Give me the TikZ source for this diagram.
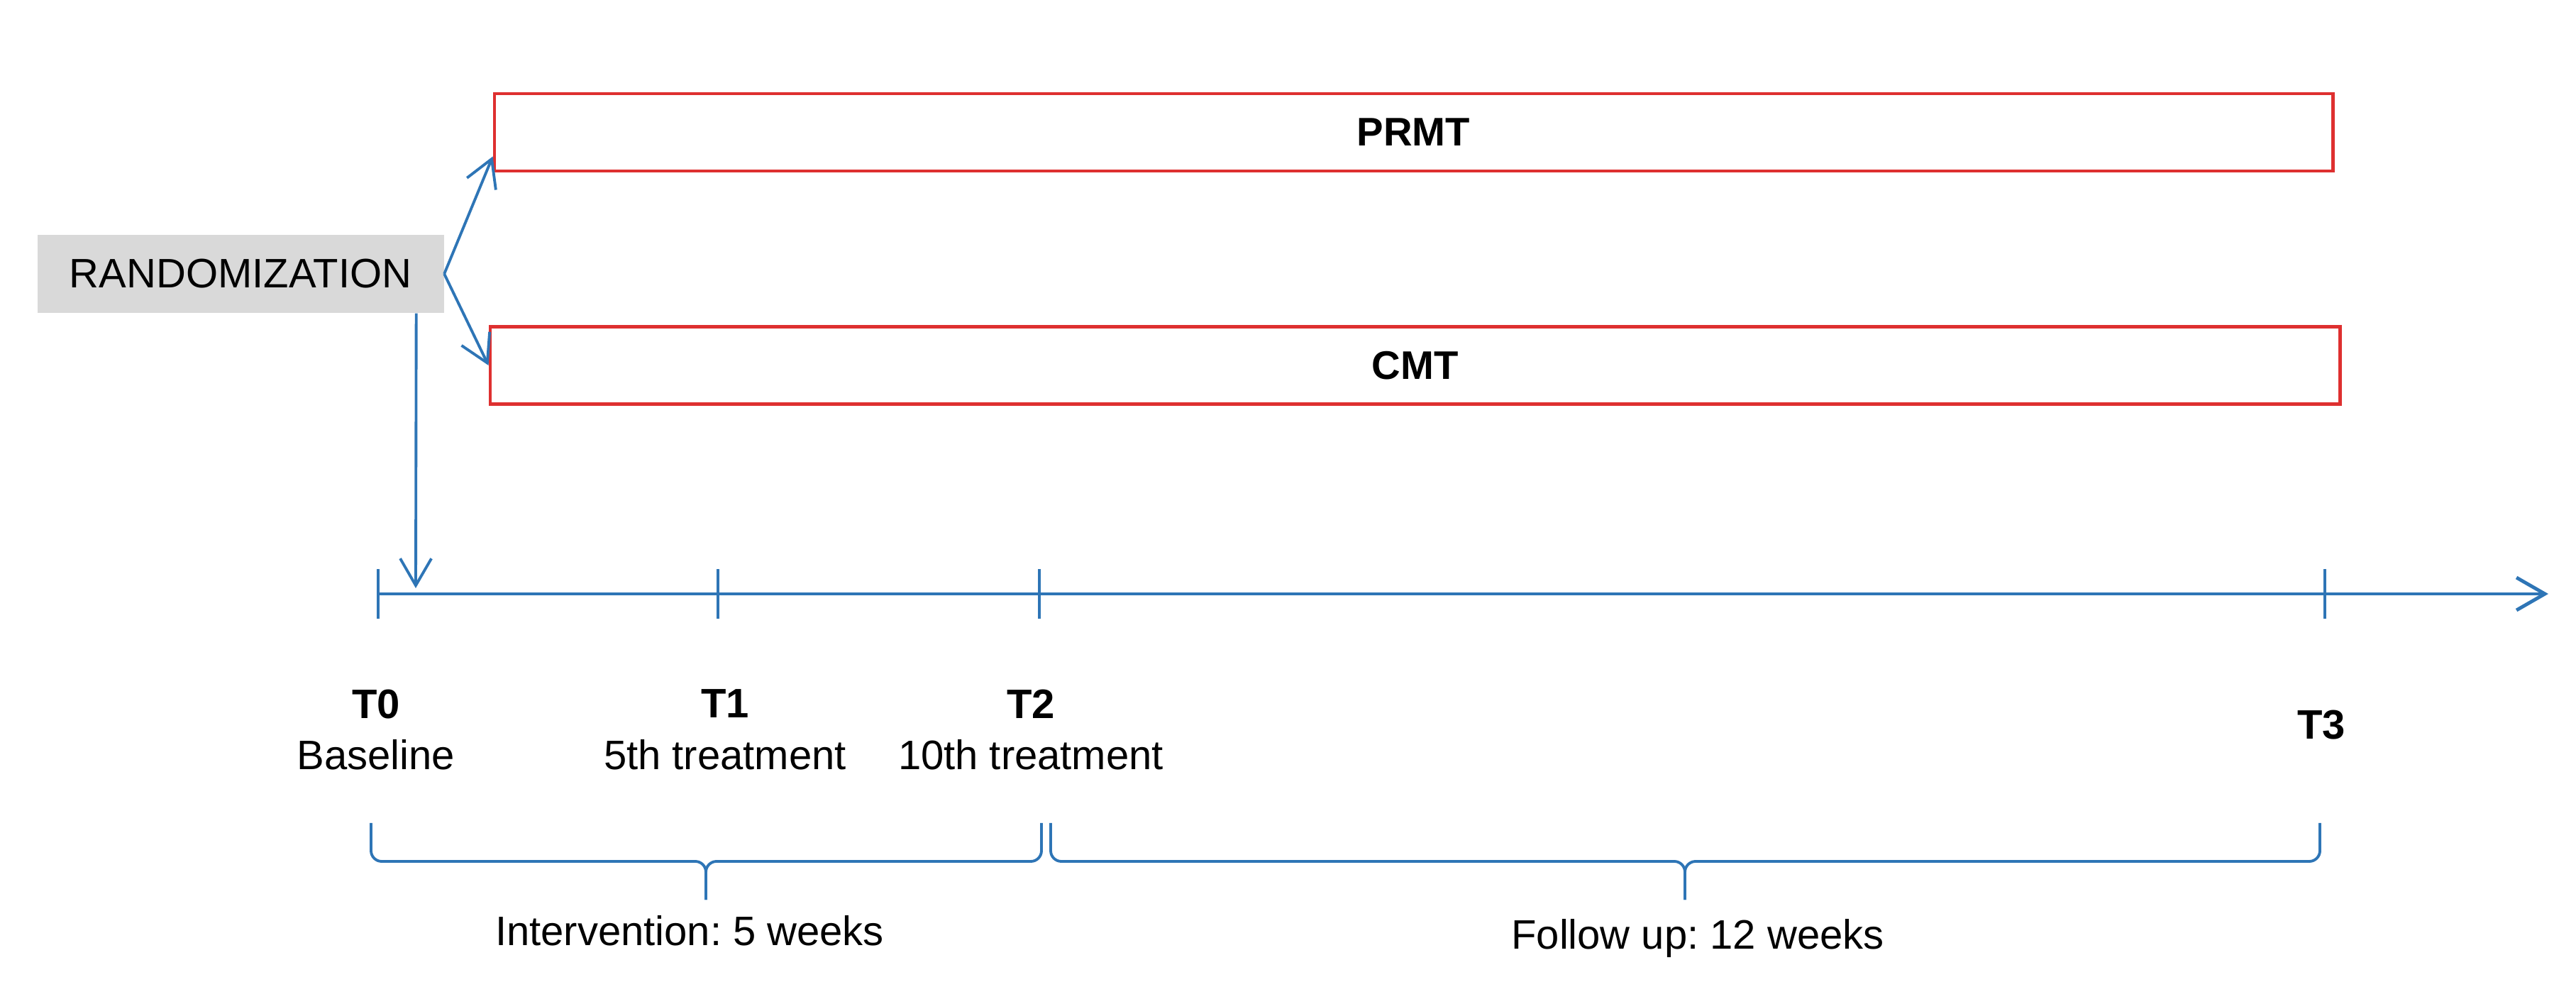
\documentclass[tikz,border=0pt]{standalone}
\usepackage{fontspec}
\setmainfont{Liberation Sans}
\usepackage{xcolor}
\usetikzlibrary{arrows.meta, positioning, calc}

\definecolor{lineblue}{RGB}{46,117,182}
\definecolor{boxred}{RGB}{222,48,48}
\definecolor{randgray}{RGB}{217,217,217}
\frenchspacing

\begin{document}
\begin{tikzpicture}[font=\fontsize{16.5}{20.7}\selectfont]
    % Styles
    \tikzstyle{armbox} = [rectangle, draw=boxred, line width=1.4pt, minimum height=1.09cm, font=\fontsize{16}{19}\selectfont\bfseries]
    \tikzstyle{blueline} = [draw=lineblue, line width=1.1pt]
    \tikzstyle{barb} = [-{Straight Barb[length=3.8mm, width=4.4mm]}]
    \tikzstyle{timelbl} = [align=center, inner sep=0pt]

    \useasboundingbox (0,0) rectangle (36.31,14.14);

    % Randomization and the two arms
    \node[fill=randgray, minimum width=5.73cm, minimum height=1.10cm] (rand) at (3.39,10.28) {RANDOMIZATION};
    \node[armbox, minimum width=25.91cm] (prmt) at (19.925,12.275) {PRMT};
    \node[armbox, minimum width=26.07cm] (cmt) at (19.945,8.99) {CMT};

    % Time points
    \coordinate (t0) at (5.33,5.77);
    \coordinate (t1) at (10.12,5.77);
    \coordinate (t2) at (14.65,5.77);
    \coordinate (t3) at (32.77,5.77);
    \coordinate (tend) at (35.92,5.77);

    % Timeline
    \draw[blueline, line width=1.4pt, -{Straight Barb[length=4mm, width=4.6mm]}] (t0) -- (tend);
    \foreach \t in {t0,t1,t2,t3}
        \draw[blueline] ([yshift=3.5mm]\t) -- ([yshift=-3.5mm]\t);

    % Connections
    \draw[blueline, barb] (rand.east) -- ([yshift=-3.4mm]prmt.west);
    \draw[blueline, barb] (rand.east) -- (cmt.west);
    \draw[blueline, barb] ([xshift=-3.95mm]rand.south east) -- ([xshift=5.3mm, yshift=0.8mm]t0);

    % Time point labels
    \node[timelbl] (lab0) at ([xshift=-0.3mm, yshift=-1.915cm]t0) {\textbf{T0}\\Baseline};
    \node[timelbl] (lab1) at ([xshift=1mm, yshift=-1.915cm]t1) {\textbf{T1}\\5th treatment};
    \node[timelbl] (lab2) at ([xshift=-1.2mm, yshift=-1.915cm]t2) {\textbf{T2}\\10th treatment};
    \node[timelbl] (lab3) at ([xshift=-0.5mm, yshift=-1.85cm]t3) {\textbf{T3}};

    % Braces under the timeline
    \coordinate (ia) at ([xshift=-1mm, yshift=-3.23cm]t0);
    \coordinate (ib) at ([xshift=0.3mm, yshift=-3.23cm]t2);
    \coordinate (itip) at (9.95,1.46);
    \coordinate (fa) at ([xshift=1.6mm, yshift=-3.23cm]t2);
    \coordinate (fb) at ([xshift=-0.7mm, yshift=-3.23cm]t3);
    \coordinate (ftip) at (23.75,1.46);

    \draw[blueline, rounded corners=1.5mm] (ia) |- ([yshift=5.4mm]itip) -- (itip);
    \draw[blueline, rounded corners=1.5mm] (ib) |- ([yshift=5.4mm]itip) -- (itip);
    \draw[blueline, rounded corners=1.5mm] (fa) |- ([yshift=5.4mm]ftip) -- (ftip);
    \draw[blueline, rounded corners=1.5mm] (fb) |- ([yshift=5.4mm]ftip) -- (ftip);

    \node[below=1mm of itip, xshift=-2.3mm] (intv) {Intervention: 5 weeks};
    \node[below=1.5mm of ftip, xshift=1.8mm] (fup) {Follow up: 12 weeks};
\end{tikzpicture}
\end{document}
